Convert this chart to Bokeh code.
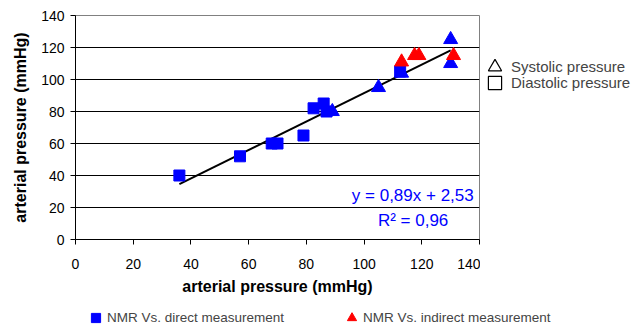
from bokeh.plotting import figure
from bokeh.layouts import column, row
from bokeh.models import Label, Legend, LegendItem, ColumnDataSource, Range1d, FixedTicker
from bokeh.embed import file_html
from bokeh.resources import INLINE

# ---- data ----
direct_dia_x = [36, 57, 68, 70, 79, 82.5, 86, 87, 112.5]
direct_dia_y = [40, 52, 60, 60, 65, 82, 85, 80, 105]
direct_sys_x = [89, 105, 113, 130, 130]
direct_sys_y = [80, 95, 104, 125, 110]
indirect_sys_x = [113, 117.5, 119, 131]
indirect_sys_y = [111, 115, 115, 115]
slope = 0.89
intercept = 2.53
fit_x = [36, 130]
ticks = [0, 20, 40, 60, 80, 100, 120, 140]
series_labels = ["NMR Vs. direct measurement", "NMR Vs. indirect measurement"]
shape_labels = ["Systolic pressure", "Diastolic pressure"]

FONT = "Liberation Sans"
BLUE = "#0000FF"
RED = "#FF0000"

MAIN_H = 305
p = figure(width=480, height=MAIN_H, output_backend="svg", toolbar_location=None,
           x_range=Range1d(0, 140), y_range=Range1d(0, 140),
           min_border_left=75, min_border_right=1, min_border_top=15,
           min_border_bottom=MAIN_H - 239)
p.background_fill_color = "white"
p.border_fill_color = "white"
p.outline_line_color = "#808080"
p.outline_line_width = 1

p.xaxis.ticker = FixedTicker(ticks=ticks)
p.yaxis.ticker = FixedTicker(ticks=ticks)
for ax in (p.xaxis[0], p.yaxis[0]):
    ax.axis_label = "arterial pressure (mmHg)"
    ax.axis_label_text_font = FONT
    ax.axis_label_text_font_style = "bold"
    ax.axis_label_text_font_size = "16px"
    ax.axis_label_text_color = "black"
    ax.major_label_text_font = FONT
    ax.major_label_text_font_size = "14px"
    ax.major_label_text_color = "black"
    ax.axis_line_color = "black"
    ax.major_tick_line_color = "black"
    ax.major_tick_in = 0
    ax.major_tick_out = 5
    ax.minor_tick_line_color = None
p.xaxis.major_label_standoff = 14
p.xaxis.axis_label_standoff = 6
p.yaxis.major_label_standoff = 6
p.yaxis.axis_label_standoff = 9

p.xgrid.grid_line_color = None
p.ygrid.grid_line_color = "black"
p.ygrid.grid_line_width = 1

fit_y = [slope * x + intercept for x in fit_x]
p.line(fit_x, fit_y, line_color="black", line_width=2)

p.scatter(direct_dia_x, direct_dia_y, marker="square", size=11,
          fill_color=BLUE, line_color=BLUE)
p.scatter(direct_sys_x, direct_sys_y, marker="triangle", size=14,
          fill_color=BLUE, line_color=BLUE)
p.scatter(indirect_sys_x, indirect_sys_y, marker="triangle", size=14,
          fill_color=RED, line_color=RED)

p.add_layout(Label(x=138, y=27.5, text="y = 0,89x + 2,53", text_align="right",
                   text_baseline="middle", text_font=FONT, text_font_size="17px",
                   text_color=BLUE))
p.add_layout(Label(x=117, y=12, text="R² = 0,96", text_align="center",
                   text_baseline="middle", text_font=FONT, text_font_size="17px",
                   text_color=BLUE))


def blank_fig(w, h):
    f = figure(width=w, height=h, output_backend="svg", toolbar_location=None,
               x_range=Range1d(0, 1), y_range=Range1d(0, 1), min_border=0)
    f.axis.visible = False
    f.grid.visible = False
    f.outline_line_color = None
    f.background_fill_color = "white"
    f.border_fill_color = "white"
    return f


def one_item_legend(label, renderer, loc, font_size, glyph, standoff):
    return Legend(items=[LegendItem(label=label, renderers=[renderer])],
                  location=loc, padding=0, margin=0, spacing=0,
                  label_text_font=FONT, label_text_font_size=font_size,
                  glyph_width=glyph, glyph_height=glyph, label_height=14,
                  label_standoff=standoff,
                  border_line_color=None, background_fill_alpha=0)


# right legend (marker shapes); the dummy point lies outside the visible range
rf = blank_fig(158, MAIN_H)
e1 = ColumnDataSource(data=dict(x=[5], y=[5]))
r_tri_o = rf.scatter("x", "y", source=e1, marker="triangle", size=15,
                     fill_color=None, line_color="black", line_width=1.2)
r_sq_o = rf.scatter("x", "y", source=e1, marker="square", size=12,
                    fill_color=None, line_color="black", line_width=1.2)
rf.add_layout(one_item_legend(shape_labels[0], r_tri_o, (-2, 156.5), "15px", 33, -1), "center")
rf.add_layout(one_item_legend(shape_labels[1], r_sq_o, (-2, 140.5), "15px", 33, -1), "center")

# bottom legend (series)
BOT_H = 327 - MAIN_H
bf = blank_fig(630, BOT_H)
e2 = ColumnDataSource(data=dict(x=[5], y=[5]))
r_bsq = bf.scatter("x", "y", source=e2, marker="square", size=8,
                   fill_color=BLUE, line_color=BLUE)
r_rtr = bf.scatter("x", "y", source=e2, marker="triangle", size=11,
                   fill_color=RED, line_color=RED)
leg_series = Legend(items=[LegendItem(label=series_labels[0], renderers=[r_bsq]),
                           LegendItem(label=series_labels[1], renderers=[r_rtr])],
                    location=(84, -2), orientation="horizontal", padding=0, margin=0,
                    spacing=56, label_text_font=FONT, label_text_font_size="13.5px",
                    glyph_width=23, glyph_height=23, label_height=14, label_standoff=-3,
                    border_line_color=None, background_fill_alpha=0)
bf.add_layout(leg_series, "center")

layout = column(row(p, rf), bf)
open("out.html", "w").write(file_html(layout, INLINE))
